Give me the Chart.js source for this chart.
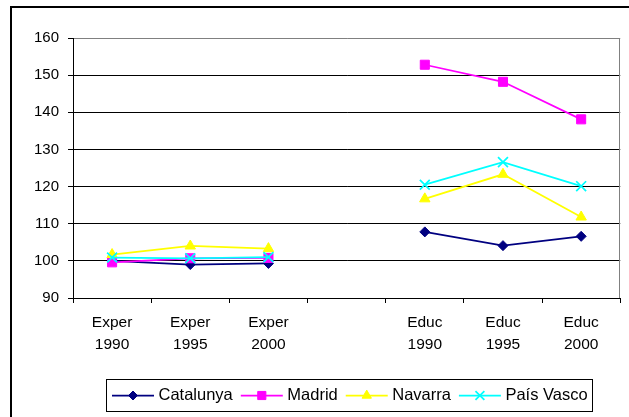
<!DOCTYPE html>
<html>
<head>
<meta charset="utf-8">
<script src="https://cdn.jsdelivr.net/npm/chart.js@4/dist/chart.umd.min.js"></script>
<style>
  html, body { margin: 0; padding: 0; background: #fff; }
  canvas { display: block; }
</style>
</head>
<body>
<canvas id="c" width="629" height="417"></canvas>
<script>
// Index values by indicator and year (the blank category separates the two groups)
const categories = [["Exper", "1990"], ["Exper", "1995"], ["Exper", "2000"], "",
                    ["Educ", "1990"], ["Educ", "1995"], ["Educ", "2000"]];
const catalunya = [100.0, 99.0, 99.3, null, 107.8, 104.1, 106.6];
const madrid    = [99.6, 100.7, 100.8, null, 152.8, 148.2, 138.1];
const navarra   = [101.7, 104.0, 103.3, null, 116.7, 123.3, 111.8];
const paisVasco = [100.9, 100.7, 101.0, null, 120.5, 126.6, 120.1];
const yMin = 90, yMax = 160, yStep = 10;

const FONT = "'Liberation Sans', Arial, sans-serif";

function series(label, data, color, style, radius, pbw, order) {
  return {
    label, data, order,
    borderColor: color, backgroundColor: color,
    pointBackgroundColor: color, pointBorderColor: color,
    pointStyle: style, pointRadius: radius, pointBorderWidth: pbw,
    borderWidth: 1.75, tension: 0, spanGaps: false
  };
}

const datasets = [
  series("Catalunya", catalunya, "#000080", "rectRot", 5, 1, 4),
  series("Madrid", madrid, "#FF00FF", "rect", 6.4, 1, 3),
  series("Navarra", navarra, "#FFFF00", "triangle", 6, 1, 2),
  series("País Vasco", paisVasco, "#00FFFF", "crossRot", 7, 1.75, 1)
];

// marker drawing for the legend keys
function drawMarker(ctx, style, r, x, y, color, bw) {
  ctx.save();
  ctx.fillStyle = color; ctx.strokeStyle = color; ctx.lineWidth = bw;
  ctx.beginPath();
  if (style === "rectRot") {
    ctx.moveTo(x - r, y); ctx.lineTo(x, y - r); ctx.lineTo(x + r, y); ctx.lineTo(x, y + r); ctx.closePath();
    ctx.fill(); ctx.stroke();
  } else if (style === "rect") {
    const s = r * Math.SQRT1_2;
    ctx.rect(x - s, y - s, 2 * s, 2 * s); ctx.fill(); ctx.stroke();
  } else if (style === "triangle") {
    ctx.moveTo(x, y - r);
    ctx.lineTo(x + r * Math.cos(Math.PI / 6), y + r / 2);
    ctx.lineTo(x - r * Math.cos(Math.PI / 6), y + r / 2);
    ctx.closePath(); ctx.fill(); ctx.stroke();
  } else if (style === "crossRot") {
    const s = r * Math.SQRT1_2;
    ctx.moveTo(x - s, y - s); ctx.lineTo(x + s, y + s);
    ctx.moveTo(x + s, y - s); ctx.lineTo(x - s, y + s);
    ctx.stroke();
  }
  ctx.restore();
}

const framePlugin = {
  id: "frame",
  beforeDraw(chart) {
    const ctx = chart.ctx;
    ctx.save();
    ctx.fillStyle = "#fff";
    ctx.fillRect(0, 0, chart.width, chart.height);
    ctx.strokeStyle = "#000";
    ctx.lineWidth = 2;
    ctx.strokeRect(11, 7, 700, 500);
    ctx.restore();
  },
  beforeDatasetsDraw(chart) {
    const a = chart.chartArea, ctx = chart.ctx;
    ctx.save();
    ctx.strokeStyle = "#808080";
    ctx.lineWidth = 1;
    ctx.beginPath();
    const xr = Math.round(a.right) - 0.5;
    ctx.moveTo(xr, Math.round(a.top) + 0.5);
    ctx.lineTo(xr, Math.round(a.bottom));
    ctx.stroke();
    ctx.restore();
  },
  afterDraw(chart) {
    const ctx = chart.ctx;
    ctx.save();
    // legend box
    ctx.strokeStyle = "#000";
    ctx.lineWidth = 1;
    ctx.strokeRect(106.5, 379.5, 486, 32);
    ctx.font = "16.5px " + FONT;
    ctx.textBaseline = "middle";
    ctx.fillStyle = "#000";
    const y = 395.5;
    let x = 112;
    chart.data.datasets.forEach(ds => {
      ctx.strokeStyle = ds.borderColor;
      ctx.lineWidth = 1.75;
      ctx.beginPath();
      ctx.moveTo(x, y); ctx.lineTo(x + 42, y);
      ctx.stroke();
      drawMarker(ctx, ds.pointStyle, ds.pointRadius * 0.9, x + 21, y, ds.borderColor, ds.pointBorderWidth);
      ctx.fillStyle = "#000";
      const tx = x + 46.5;
      ctx.fillText(ds.label, tx, y);
      x = tx + ctx.measureText(ds.label).width + 8;
    });
    ctx.restore();
  }
};

new Chart(document.getElementById("c"), {
  type: "line",
  data: { labels: categories, datasets },
  options: {
    responsive: false,
    devicePixelRatio: 1,
    animation: false,
    events: [],
    layout: { padding: { left: 0, top: 38, right: 2, bottom: 0 } },
    plugins: { legend: { display: false }, tooltip: { enabled: false } },
    scales: {
      x: {
        offset: true,
        grid: { offset: true, drawOnChartArea: false, drawTicks: true, tickLength: 5, color: "#000", tickColor: "#000" },
        border: { display: true, color: "#000", width: 1 },
        ticks: { font: { family: FONT, size: 15.5, lineHeight: 1.45 }, color: "#000", padding: 8, maxRotation: 0, autoSkip: false },
        afterFit(s) { s.height = 119; }
      },
      y: {
        min: yMin, max: yMax,
        ticks: { stepSize: yStep, font: { family: FONT, size: 15 }, color: "#000", padding: 9 },
        grid: {
          color: c => (c.tick && c.tick.value === yMax) ? "#808080" : "#000",
          tickColor: "#000", tickLength: 5, lineWidth: 1
        },
        border: { display: true, color: "#000", width: 1 },
        afterFit(s) { s.width = 73; }
      }
    }
  },
  plugins: [framePlugin]
});
</script>
</body>
</html>
